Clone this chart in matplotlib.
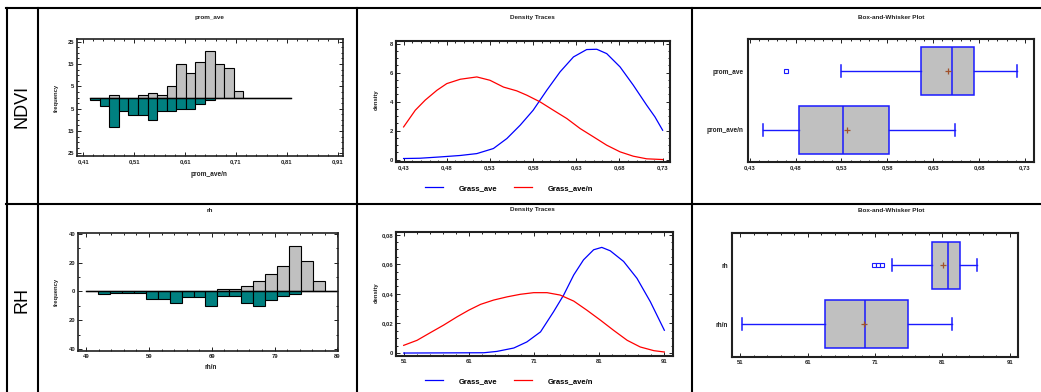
import matplotlib
matplotlib.use("Agg")
import matplotlib.pyplot as plt
from matplotlib.lines import Line2D
from matplotlib.ticker import FixedLocator, MultipleLocator, FuncFormatter
import numpy as np

# ---- data ----
# histograms (back-to-back): 21 bins each
ndvi_hist_range = (0.4237, 0.8185)
ndvi_counts_ave = [0, 0, 1, 0, 0, 1, 2, 1, 5, 15, 11, 16, 21, 15, 13, 3, 0, 0, 0, 0, 0]
ndvi_counts_ave_n = [1, 4, 13, 6, 8, 8, 10, 6, 6, 5, 5, 3, 1, 0, 0, 0, 0, 0, 0, 0, 0]

rh_hist_range = (48.95, 88.95)
rh_counts = [0, 0, 0, 0, 0, 0, 0, 0, 0, 0, 0, 2, 2, 4, 7, 12, 18, 32, 21, 7, 0]
rh_counts_n = [0, 2, 1, 1, 1, 5, 5, 8, 4, 4, 10, 3, 3, 8, 10, 6, 3, 2, 0, 0, 0]

# density traces
ndvi_dens_x_n = [0.43, 0.4435, 0.455, 0.4686, 0.480, 0.4956, 0.5148, 0.530, 0.5457, 0.561,
                 0.5727, 0.588, 0.6035, 0.619, 0.6344, 0.65, 0.6652, 0.6807, 0.696, 0.7115, 0.73]
ndvi_dens_y_n = [2.25, 3.4, 4.1, 4.78, 5.24, 5.54, 5.7, 5.47, 5.0, 4.74,
                 4.44, 3.98, 3.4, 2.83, 2.14, 1.56, 0.99, 0.53, 0.23, 0.05, 0.0]
ndvi_dens_x = [0.43, 0.449, 0.4724, 0.4956, 0.5148, 0.534, 0.5496, 0.565, 0.580, 0.5958,
               0.6112, 0.6267, 0.642, 0.6537, 0.6652, 0.6807, 0.696, 0.7115, 0.7211, 0.73]
ndvi_dens_y = [0.07, 0.09, 0.18, 0.28, 0.41, 0.76, 1.45, 2.37, 3.4, 4.78,
               6.05, 7.08, 7.59, 7.61, 7.31, 6.39, 5.13, 3.75, 2.94, 2.02]

rh_dens_x_n = [51, 53.05, 55.1, 57.1, 59.2, 61, 62.8, 64.8, 66.9, 68.9, 70.95,
               73, 75, 77.1, 79.1, 81.2, 83.2, 85.3, 87.3, 89.4, 91]
rh_dens_y_n = [0.0052, 0.0086, 0.0138, 0.0188, 0.0245, 0.029, 0.0329, 0.0358, 0.038, 0.0397, 0.0408,
               0.0408, 0.0392, 0.0351, 0.029, 0.0222, 0.0154, 0.0086, 0.0041, 0.0016, 0.0007]
rh_dens_x = [51, 63.3, 65.3, 67.9, 69.9, 72, 74, 75.55, 77.1, 78.6, 80.15,
             81.4, 82.7, 84.75, 86.8, 88.85, 91]
rh_dens_y = [0.0, 0.0002, 0.0011, 0.0034, 0.0075, 0.0143, 0.0279, 0.0392, 0.0528, 0.063, 0.0698,
             0.0714, 0.0691, 0.0619, 0.0505, 0.0347, 0.0154]

# box-and-whisker summaries
ndvi_box = [
    dict(label="prom_ave", whislo=0.53, q1=0.6162, med=0.6507, q3=0.6747, whishi=0.7216,
         mean=0.6456, fliers=[0.47]),
    dict(label="prom_ave/n", whislo=0.4445, q1=0.4835, med=0.5315, q3=0.5816, whishi=0.6536,
         mean=0.5365, fliers=[]),
]
rh_box = [
    dict(label="rh", whislo=73.57, q1=79.5, med=81.77, q3=83.6, whishi=86.2,
         mean=81.1, fliers=[70.8, 71.44, 72.09]),
    dict(label="rh/n", whislo=51.25, q1=63.54, med=69.47, q3=75.94, whishi=82.46,
         mean=69.3, fliers=[]),
]

# tick labels
ndvi_hist_xticks = [0.41, 0.51, 0.61, 0.71, 0.81, 0.91]
ndvi_xticks = [0.43, 0.48, 0.53, 0.58, 0.63, 0.68, 0.73]
rh_hist_xticks = [49, 59, 69, 79, 89]
rh_xticks = [51, 61, 71, 81, 91]

W, H = 1041, 392
plt.rcParams["font.family"] = ["Liberation Sans", "DejaVu Sans"]
plt.rcParams["font.weight"] = "bold"

fig = plt.figure(figsize=(W / 100, H / 100), dpi=100)


def fx(px):
    return px / W


def fy(py):
    return 1 - py / H


def add_ax(left, top, right, bottom):
    return fig.add_axes([fx(left), fy(bottom), (right - left) / W, (bottom - top) / H])


def comma(decimals):
    def f(v, pos):
        if abs(v) < 1e-12:
            return "0"
        return f"{v:.{decimals}f}".replace(".", ",")
    return FuncFormatter(f)


def style(ax, lw=1.2, left_ticks=True):
    for s in ax.spines.values():
        s.set_linewidth(lw)
        s.set_color("#202020")
    ax.tick_params(which="both", direction="in", top=True, right=True, left=left_ticks,
                   labelsize=4.2, pad=2, width=0.7, colors="#202020")
    ax.tick_params(which="major", length=3)
    ax.tick_params(which="minor", length=1.5)


def histogram(ax, rng, up, down, xlim, ylim, xticks, xmin, xoff, ymaj, ymin, xdec):
    edges = np.linspace(rng[0], rng[1], len(up) + 1)
    widths = np.diff(edges)
    ax.bar(edges[:-1], up, width=widths, align="edge", color="#c0c0c0",
           edgecolor="black", linewidth=0.8)
    ax.bar(edges[:-1], -np.array(down), width=widths, align="edge", color="#008080",
           edgecolor="black", linewidth=0.8)
    ax.plot([edges[0], edges[-1]], [0, 0], color="black", lw=1.0)
    ax.set_xlim(*xlim)
    ax.set_ylim(*ylim)
    ax.xaxis.set_major_locator(FixedLocator(xticks))
    ax.xaxis.set_minor_locator(MultipleLocator(xmin, offset=xoff))
    ax.yaxis.set_major_locator(FixedLocator(ymaj))
    ax.yaxis.set_minor_locator(MultipleLocator(ymin))
    ax.xaxis.set_major_formatter(comma(xdec))
    ax.yaxis.set_major_formatter(FuncFormatter(lambda v, p: f"{abs(v):.0f}"))
    style(ax)


def density(ax, xs, ys, xs_n, ys_n, xlim, ylim, xticks, xmin, xoff, ymaj, ymin, xdec, ydec):
    ax.plot(xs, ys, color="#0000ff", lw=0.9, label="Grass_ave")
    ax.plot(xs_n, ys_n, color="#ff0000", lw=0.9, label="Grass_ave/n")
    ax.set_xlim(*xlim)
    ax.set_ylim(*ylim)
    ax.xaxis.set_major_locator(FixedLocator(xticks))
    ax.xaxis.set_minor_locator(MultipleLocator(xmin, offset=xoff))
    ax.yaxis.set_major_locator(MultipleLocator(ymaj))
    ax.yaxis.set_minor_locator(MultipleLocator(ymin))
    ax.xaxis.set_major_formatter(comma(xdec))
    ax.yaxis.set_major_formatter(comma(ydec))
    style(ax, lw=1.5)


def boxplot(ax, stats, xlim, ylim, xticks, xmin, xoff, xdec):
    blue = "#1a1aff"
    ax.bxp(stats, positions=[2, 1], widths=0.81, orientation="horizontal",
           patch_artist=True, showmeans=True, capwidths=0.2, manage_ticks=False,
           boxprops=dict(facecolor="#c0c0c0", edgecolor=blue, linewidth=1.1),
           medianprops=dict(color=blue, linewidth=1.1),
           whiskerprops=dict(color=blue, linewidth=1.0),
           capprops=dict(color=blue, linewidth=1.1),
           meanprops=dict(marker="+", markeredgecolor="#a0522d", markersize=5,
                          markeredgewidth=0.9),
           flierprops=dict(marker="s", markerfacecolor="white", markeredgecolor=blue,
                           markersize=2.8, markeredgewidth=0.8))
    ax.set_xlim(*xlim)
    ax.set_ylim(*ylim)
    ax.set_yticks([2, 1])
    ax.set_yticklabels([s["label"] for s in stats])
    ax.xaxis.set_major_locator(FixedLocator(xticks))
    ax.xaxis.set_minor_locator(MultipleLocator(xmin, offset=xoff))
    ax.xaxis.set_major_formatter(comma(xdec))
    style(ax, lw=1.5, left_ticks=False)
    ax.tick_params(axis="y", which="both", left=False, right=False, labelsize=4.7, pad=3)


legend_kw = dict(loc="center", bbox_transform=fig.transFigure, ncol=2, frameon=False,
                 fontsize=5.5, handlelength=2.4, handletextpad=2.0, columnspacing=2.2)

# ---- row 1: NDVI ----
ax = add_ax(77, 39, 343, 156)
histogram(ax, ndvi_hist_range, ndvi_counts_ave, ndvi_counts_ave_n,
          (0.398, 0.92), (-26.2, 26.2), ndvi_hist_xticks, 0.02, 0.01,
          [-25, -15, -5, 5, 15, 25], 2.5, 2)

ax = add_ax(396, 41, 670, 162)
density(ax, ndvi_dens_x, ndvi_dens_y, ndvi_dens_x_n, ndvi_dens_y_n,
        (0.4212, 0.7385), (-0.17, 8.18), ndvi_xticks, 0.01, 0, 2, 0.5, 2, 0)
ax.legend(bbox_to_anchor=(fx(509), fy(188)), **legend_kw)

ax = add_ax(748, 39, 1034, 162)
boxplot(ax, ndvi_box, (0.4281, 0.7398), (0.45, 2.55), ndvi_xticks, 0.01, 0, 2)

# ---- row 2: RH ----
ax = add_ax(78, 233, 338, 351)
histogram(ax, rh_hist_range, rh_counts, rh_counts_n,
          (47.7, 89.1), (-41.5, 40.8), rh_hist_xticks, 2, 1, [-40, -20, 0, 20, 40], 10, 0)

ax = add_ax(396, 232, 673, 356)
density(ax, rh_dens_x, rh_dens_y, rh_dens_x_n, rh_dens_y_n,
        (49.82, 92.33), (-0.002, 0.0818), rh_xticks, 2, 1, 0.02, 0.005, 0, 2)
ax.legend(bbox_to_anchor=(fx(509), fy(381)), **legend_kw)

ax = add_ax(732, 233, 1018, 357)
boxplot(ax, rh_box, (49.77, 92.23), (0.44, 2.55), rh_xticks, 2, 1, 0)

# ---- titles and axis labels (pixel placed) ----
titles = [("prom_ave", 209, 17), ("Density Traces", 532, 17.5), ("Box-and-Whisker Plot", 891, 17.5),
          ("rh", 210, 210.5), ("Density Traces", 532, 210), ("Box-and-Whisker Plot", 891, 211)]
for txt, x, y in titles:
    fig.text(fx(x), fy(y), txt, ha="center", va="center", fontsize=4.6, color="#202020")

fig.text(fx(209), fy(174), "prom_ave/n", ha="center", va="center", fontsize=4.7, color="#202020")
fig.text(fx(211), fy(367.5), "rh/n", ha="center", va="center", fontsize=4.7, color="#202020")
for x, y, t in [(56, 98, "frequency"), (56.5, 292, "frequency"),
                (376.5, 100, "density"), (376, 293, "density")]:
    fig.text(fx(x), fy(y), t, ha="center", va="center", rotation=90, fontsize=4.2, color="#202020")

fig.text(fx(22), fy(106), "NDVI", ha="center", va="center", rotation=90, fontsize=13,
         fontweight="normal")
fig.text(fx(22), fy(300), "RH", ha="center", va="center", rotation=90, fontsize=13,
         fontweight="normal")

# ---- table grid ----
lw = 1.5
for y in (8.3, 204):
    fig.add_artist(Line2D([fx(6), 1], [fy(y), fy(y)], color="black", lw=lw))
for x in (7, 37.7, 356.7, 692):
    fig.add_artist(Line2D([fx(x), fx(x)], [fy(7.6), 0], color="black", lw=lw))

fig.savefig("out.png", dpi=100)
